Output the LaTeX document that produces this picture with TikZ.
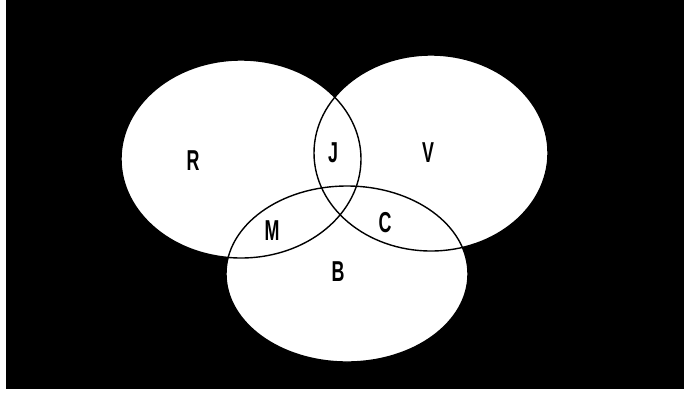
\documentclass[tikz,border=0pt]{standalone}
\usepackage{fontspec}
\setmainfont{Liberation Sans}
\usetikzlibrary{positioning}

\begin{document}
\begin{tikzpicture}[x=0.5pt,y=-0.5pt]
    \tikzset{
      region/.style={font=\bfseries\Large,xscale=0.62,transform shape,inner sep=0pt},
      setfill/.style={fill=white},
      setline/.style={draw=black,line width=0.7pt}
    }
    % frame
    \fill[white] (0,0) rectangle (684,392);
    \useasboundingbox (0,0) rectangle (684,392);
    \fill[black] (6,0) rectangle (684,389);
    % the three sets
    \fill[setfill] (241,159) ellipse [x radius=120,y radius=99];
    \fill[setfill] (431,153) ellipse [x radius=117,y radius=98];
    \fill[setfill] (347,274) ellipse [x radius=121,y radius=88];
    \draw[setline] (241,159) ellipse [x radius=120,y radius=99];
    \draw[setline] (431,153) ellipse [x radius=117,y radius=98];
    \draw[setline] (347,274) ellipse [x radius=121,y radius=88];
    % labels
    \node[region] (R) at (193,161) {R};
    \node[region] (J) at (333,153) {J};
    \node[region] (V) at (428,153) {V};
    \node[region] (M) at (272,231) {M};
    \node[region] (C) at (385,223) {C};
    \node[region] (B) at (338,272) {B};
\end{tikzpicture}
\end{document}
